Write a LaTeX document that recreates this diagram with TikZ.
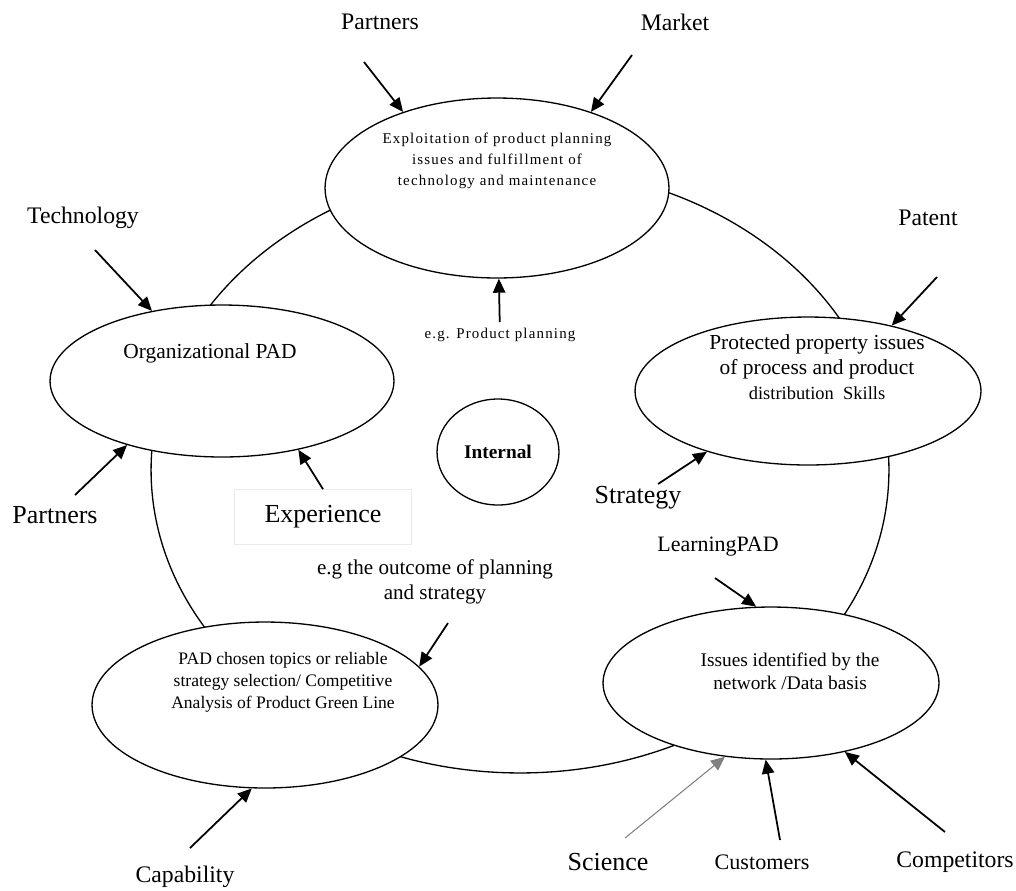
\documentclass[tikz,border=0pt]{standalone}
\usepackage{fontspec}
\setmainfont{Liberation Serif}
\newfontfamily\spacedfont{Liberation Serif}[LetterSpace=8]
\usetikzlibrary{arrows.meta,shapes.geometric}

\begin{document}
\begin{tikzpicture}[x=0.02cm,y=-0.02cm,>={Triangle[length=8pt,width=7pt]},
    area node/.style={ellipse,draw,fill=white,line width=0.75pt,inner sep=0pt},
    name node/.style={font=\fontsize{13.5}{16}\selectfont},
    big node/.style={font=\fontsize{14.8}{17}\selectfont},
    every edge/.style={draw,->,line width=1pt}]

  \useasboundingbox (0,0) rectangle (1016,890);

  % outer ring
  \draw[line width=0.75pt] (520,470) ellipse [x radius=7.38cm,y radius=6.06cm];

  \node[area node,minimum width=6.88cm,minimum height=3.6cm] (expl) at (497,188) {};
  \node[area node,minimum width=6.88cm,minimum height=3.04cm] (orgpad) at (222,381) {};
  \node[area node,minimum width=6.92cm,minimum height=2.96cm] (prot) at (808,391) {};
  \node[area node,minimum width=6.92cm,minimum height=3.32cm] (padsel) at (265,705) {};
  \node[area node,minimum width=6.72cm,minimum height=3.04cm] (issues) at (771,683) {};
  \node[area node,minimum width=2.44cm,minimum height=2.12cm,
        font=\bfseries\fontsize{11}{13}\selectfont] (int) at (498,452) {Internal};

  % texts inside
  \node[align=center,font=\spacedfont\fontsize{8.5}{12}\selectfont] (expltxt) at (497,161)
    {Exploitation of product planning\\ issues and fulfillment of\\ technology and maintenance};
  \node[font=\fontsize{12.2}{14}\selectfont] (orgtxt) at (210,353) {Organizational PAD};
  \node[align=center,font=\fontsize{12.2}{14.2}\selectfont] (prottxt) at (817,367)
    {Protected property issues\\ of process and product\\ {\fontsize{10.5}{12}\selectfont distribution\ \ Skills}};
  \node[align=center,font=\fontsize{10}{12.5}\selectfont] (padtxt) at (283,682)
    {PAD chosen topics or reliable\\ strategy selection/ Competitive\\ Analysis of Product Green Line};
  \node[align=center,font=\fontsize{11}{13}\selectfont] (issuestxt) at (790,671)
    {Issues identified by the\\ network /Data basis};

  % outside labels
  \node[name node] (partT) at (380,22) {Partners};
  \node[name node] (market) at (675,22) {Market};
  \node[name node] (tech) at (83,218) {Technology};
  \node[name node] (patent) at (928,218) {Patent};
  \node[big node] (partL) at (55,515) {Partners};
  \node[big node,draw=black!8,minimum width=3.54cm,minimum height=1.1cm] (exp) at (323,517) {Experience};
  \node[big node] (strat) at (638,498) {Strategy};
  \node[font=\spacedfont\fontsize{8.5}{12}\selectfont] (eg1) at (500,335) {e.g. Product planning};
  \node[font=\fontsize{12.5}{14}\selectfont] (learn) at (718,547) {LearningPAD};
  \node[align=center,font=\fontsize{12}{14}\selectfont] (eg2) at (435,582)
    {e.g the outcome of planning\\ and strategy};
  \node[name node] (capab) at (185,877) {Capability};
  \node[big node] (sci) at (608,862) {Science};
  \node[font=\fontsize{12.6}{15}\selectfont] (cust) at (762,862) {Customers};
  \node[name node] (comp) at (955,862) {Competitors};

  % arrow tails
  \coordinate (partT in) at (364,62);
  \coordinate (market in) at (632,55);
  \coordinate (tech in) at (95,250);
  \coordinate (partL in) at (75,495);
  \coordinate (patent in) at (937,277);
  \coordinate (strat in) at (658,484);
  \coordinate (learn in) at (715,578);
  \coordinate (eg2 in) at (448,623);
  \coordinate (capab in) at (190,848);
  \coordinate (sci in) at (625,838);
  \coordinate (cust in) at (780,840);
  \coordinate (comp in) at (945,832);

  \path
    (partT in) edge (expl.141)
    (market in) edge (expl.39)
    (eg1) edge (expl)
    (tech in) edge (orgpad.135)
    (partL in) edge (orgpad.214)
    (exp.north) edge (orgpad.-42)
    (patent in) edge (prot.38)
    (strat in) edge (prot.211)
    (learn in) edge (issues.101)
    (eg2 in) edge (padsel.14)
    (capab in) edge (padsel.-99)
    (sci in) edge [gray,line width=0.6pt] (issues.-122)
    (cust in) edge (issues.-94)
    (comp in) edge (issues.-43);
\end{tikzpicture}
\end{document}
